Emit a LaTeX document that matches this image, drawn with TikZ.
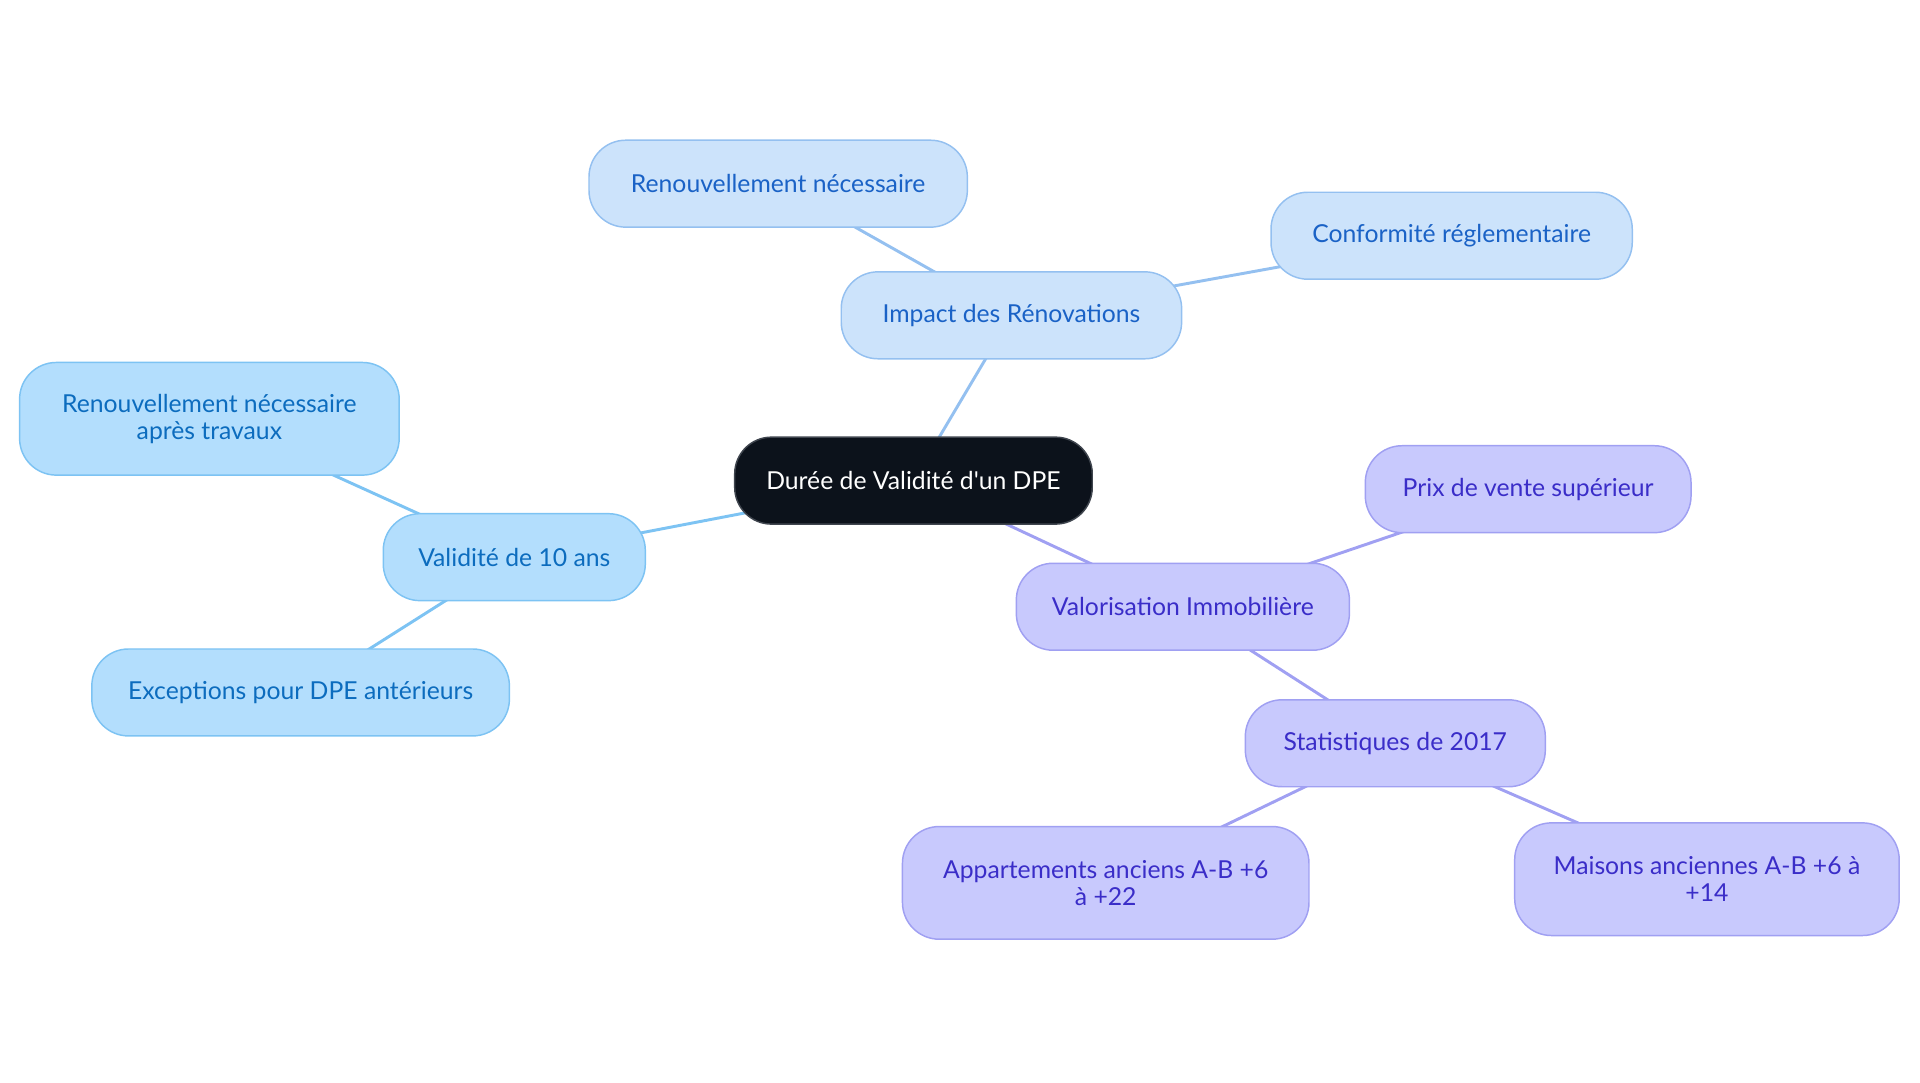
\documentclass[tikz,border=0pt]{standalone}
\usepackage{fontspec}
\setmainfont{Lato}
\usetikzlibrary{backgrounds}
\definecolor{rootfill}{HTML}{0C121B}
\definecolor{rootline}{HTML}{3F454E}
\definecolor{renfill}{HTML}{CCE3FB}
\definecolor{renline}{HTML}{94C0F0}
\definecolor{rentext}{HTML}{1A62C6}
\definecolor{valfill}{HTML}{B3DEFD}
\definecolor{valline}{HTML}{7DC3F3}
\definecolor{valtext}{HTML}{0C6CBE}
\definecolor{immfill}{HTML}{C8C9FD}
\definecolor{immline}{HTML}{A0A0F2}
\definecolor{immtext}{HTML}{3A2DC8}

\tikzset{
    mapnode/.style={rounded corners=15pt, line width=0.6pt, align=center,
        inner sep=0pt, minimum height=35.5pt,
        font=\fontsize{10.1}{10.9}\selectfont},
    rootnode/.style={mapnode, fill=rootfill, draw=rootline, text=white},
    rennode/.style={mapnode, fill=renfill, draw=renline, text=rentext},
    valnode/.style={mapnode, fill=valfill, draw=valline, text=valtext},
    immnode/.style={mapnode, fill=immfill, draw=immline, text=immtext},
    renedge/.style={draw=renline, line width=1.2pt},
    valedge/.style={draw=valline, line width=1.2pt},
    immedge/.style={draw=immline, line width=1.2pt}
}

\begin{document}
\begin{tikzpicture}[x=0.5pt, y=-0.5pt]

        \useasboundingbox (0,0) rectangle (1568,884.4);

        % Nodes
        \node[rootnode, minimum width=146pt] (root) at (746,392.5) {Durée de Validité d\textquotesingle un DPE};

        \node[rennode, minimum width=139pt] (impact) at (826,257.5) {Impact des Rénovations};
        \node[rennode, minimum width=154.5pt] (renou) at (635.5,150) {Renouvellement nécessaire};
        \node[rennode, minimum width=147.5pt] (conform) at (1185.5,192.5) {Conformité réglementaire};

        \node[valnode, minimum width=107pt] (valid) at (420,455) {Validité de 10 ans};
        \node[valnode, minimum width=155pt, minimum height=46pt] (apres) at (171,342) {Renouvellement nécessaire\\après travaux};
        \node[valnode, minimum width=170.5pt] (except) at (245.5,565.5) {Exceptions pour DPE antérieurs};

        \node[immnode, minimum width=136pt] (valor) at (966,495.5) {Valorisation Immobilière};
        \node[immnode, minimum width=133pt] (prix) at (1248,399.5) {Prix de vente supérieur};
        \node[immnode, minimum width=122.5pt] (stats) at (1139.5,607) {Statistiques de 2017};
        \node[immnode, minimum width=166pt, minimum height=46pt] (appart) at (903,721) {Appartements anciens A-B +6\\à +22};
        \node[immnode, minimum width=157pt, minimum height=46pt] (maisons) at (1394,718) {Maisons anciennes A-B +6 à\\+14};

        % Connectors, centre to centre behind the nodes
        \begin{scope}[on background layer]
        \foreach \a/\b/\e in {root/impact/renedge, impact/renou/renedge, impact/conform/renedge,
                root/valid/valedge, valid/apres/valedge, valid/except/valedge,
                root/valor/immedge, valor/prix/immedge, valor/stats/immedge,
                stats/appart/immedge, stats/maisons/immedge}
            \draw[\e] (\a.center) -- (\b.center);
        \end{scope}

\end{tikzpicture}
\end{document}
